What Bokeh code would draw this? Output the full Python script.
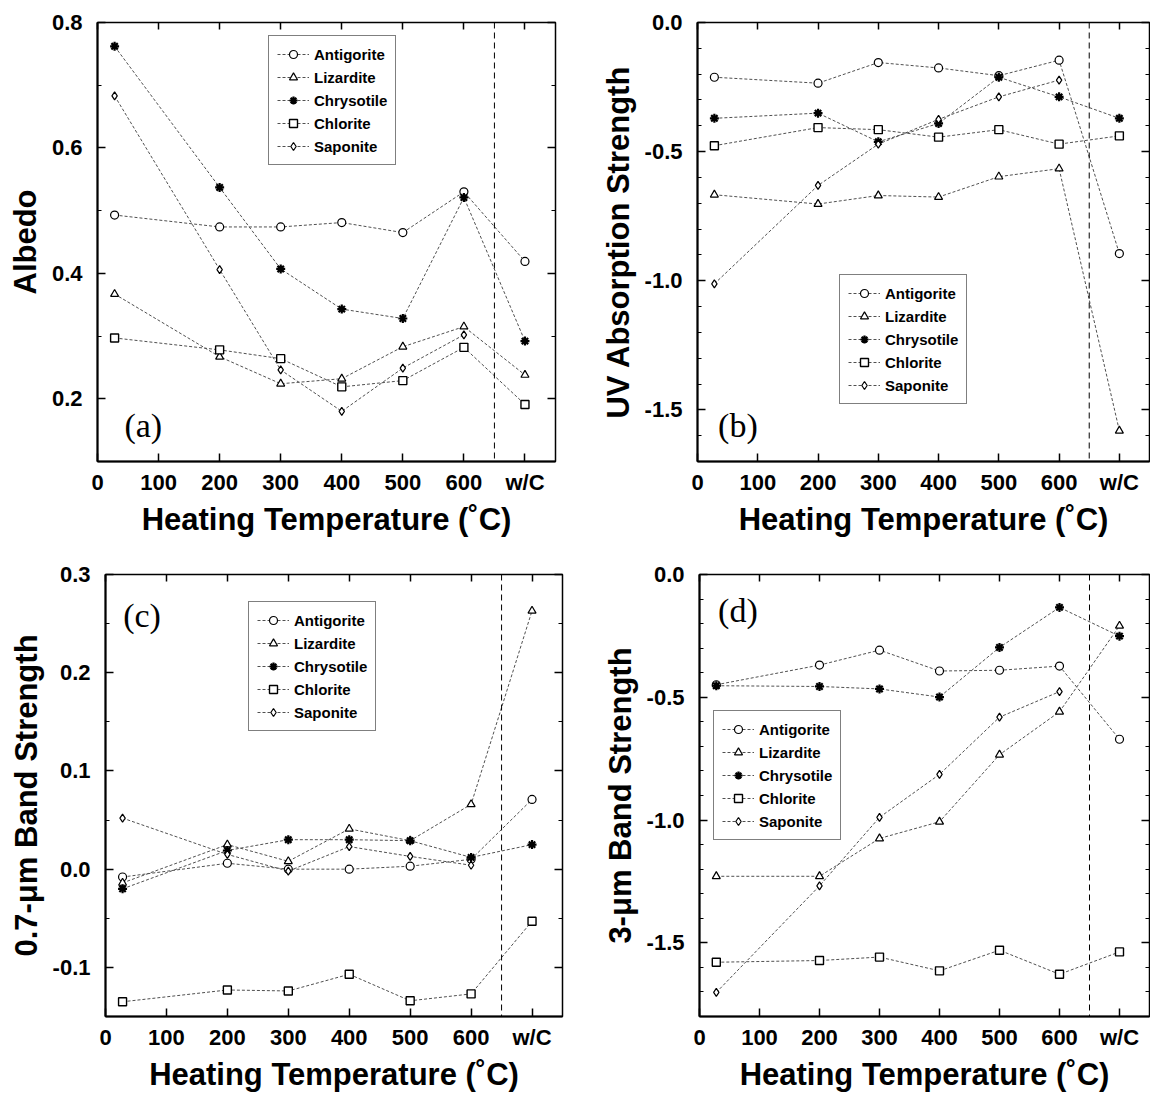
import numpy as np
from bokeh.plotting import figure
from bokeh.models import (Range1d, LinearAxis, FixedTicker, Span, Legend, LegendItem,
                          Label, NumeralTickFormatter, CustomJSTickFormatter, ColumnDataSource)
from bokeh.layouts import column, row
from bokeh.embed import file_html
from bokeh.resources import INLINE

NaN = float("nan")

# ---------------- data ----------------
temps = [28, 200, 300, 400, 500, 600, 700]          # 700 = "w/C"
x_tick_values = [0, 100, 200, 300, 400, 500, 600, 700]
x_tick_labels = ["0", "100", "200", "300", "400", "500", "600", "w/C"]
minerals = ["Antigorite", "Lizardite", "Chrysotile", "Chlorite", "Saponite"]

# (a) Albedo
albedo_antigorite = [0.493, 0.474, 0.474, 0.481, 0.465, 0.530, 0.419]
albedo_lizardite  = [0.367, 0.267, 0.224, 0.232, 0.283, 0.315, 0.238]
albedo_chrysotile = [0.762, 0.537, 0.407, 0.343, 0.328, 0.521, 0.292]
albedo_chlorite   = [0.297, 0.278, 0.264, 0.219, 0.229, 0.282, 0.191]
albedo_saponite   = [0.683, 0.406, 0.246, 0.180, 0.249, 0.302, NaN]

# (b) UV absorption strength
uv_antigorite = [-0.212, -0.235, -0.155, -0.176, -0.206, -0.146, -0.895]
uv_lizardite  = [-0.667, -0.703, -0.670, -0.676, -0.597, -0.566, -1.581]
uv_chrysotile = [-0.371, -0.351, -0.462, -0.391, -0.212, -0.288, -0.371]
uv_chlorite   = [-0.477, -0.407, -0.415, -0.444, -0.415, -0.471, -0.439]
uv_saponite   = [-1.012, -0.631, -0.471, -0.375, -0.288, -0.223, NaN]

# (c) 0.7-um band strength
b07_antigorite = [-0.008, 0.006, 0.000, 0.000, 0.003, 0.010, 0.071]
b07_lizardite  = [-0.014, 0.025, 0.008, 0.041, 0.029, 0.066, 0.263]
b07_chrysotile = [-0.020, 0.019, 0.030, 0.030, 0.029, 0.012, 0.025]
b07_chlorite   = [-0.135, -0.123, -0.124, -0.107, -0.134, -0.127, -0.053]
b07_saponite   = [0.052, 0.015, -0.002, 0.023, 0.013, 0.004, NaN]

# (d) 3-um band strength
b3_antigorite = [-0.449, -0.369, -0.308, -0.393, -0.390, -0.373, -0.671]
b3_lizardite  = [-1.229, -1.229, -1.075, -1.007, -0.734, -0.559, -0.209]
b3_chrysotile = [-0.453, -0.456, -0.466, -0.499, -0.297, -0.134, -0.251]
b3_chlorite   = [-1.579, -1.572, -1.558, -1.614, -1.530, -1.628, -1.537]
b3_saponite   = [-1.702, -1.268, -0.989, -0.814, -0.581, -0.477, NaN]

# ---------------- styling ----------------
FONT = "Liberation Sans"
SERIF = "Liberation Serif"
markers = {"Antigorite": ("circle", 8, 1.2),
           "Lizardite": ("triangle", 8, 1.2),
           "Chrysotile": ("asterisk", 9, 2.2),
           "Chlorite": ("square", 8, 1.4),
           "Saponite": ("diamond", 8, 1.2)}


def make_panel(series, y_label, y_range, y_ticks, y_minor, tag, tag_xy,
               borders, height, legend_loc):
    left, right, top, bottom = borders
    p = figure(width=575, height=height, x_range=Range1d(0, 750),
               y_range=Range1d(*y_range), output_backend="svg",
               toolbar_location=None,
               min_border_left=left, min_border_right=right,
               min_border_top=top, min_border_bottom=bottom)
    p.xgrid.visible = False
    p.ygrid.visible = False
    p.outline_line_color = "black"
    p.outline_line_width = 1.5
    p.background_fill_color = "white"
    p.border_fill_color = "white"

    # bottom axis
    xa = p.xaxis[0]
    xa.ticker = FixedTicker(ticks=x_tick_values)
    xa.major_label_overrides = {v: l for v, l in zip(x_tick_values, x_tick_labels)}
    xa.axis_label = "Heating Temperature (\u02daC)"
    # left axis
    ya = p.yaxis[0]
    ya.ticker = FixedTicker(ticks=y_ticks, minor_ticks=y_minor)
    ya.formatter = NumeralTickFormatter(format="0.0")
    ya.axis_label = y_label
    for ax in (xa, ya):
        ax.major_tick_in = 8
        ax.major_tick_out = 0
        ax.minor_tick_in = 4
        ax.minor_tick_out = 0
        ax.axis_line_width = 2
        ax.major_tick_line_width = 1.5
        ax.major_label_text_font = FONT
        ax.major_label_text_font_style = "bold"
        ax.major_label_text_font_size = "22px"
        ax.major_label_text_color = "black"
        ax.axis_label_text_font = FONT
        ax.axis_label_text_font_style = "bold"
        ax.axis_label_text_font_size = "31px"
        ax.axis_label_text_color = "black"
    xa.major_label_standoff = 8
    xa.axis_label_standoff = 4
    ya.major_label_standoff = 15
    ya.axis_label_standoff = 6

    # mirrored ticks (top / right), no labels
    blank = CustomJSTickFormatter(code="return ''")
    top_ax = LinearAxis(ticker=FixedTicker(ticks=x_tick_values), formatter=blank,
                        major_tick_in=7, major_tick_out=0, axis_line_color=None,
                        major_label_standoff=0, major_label_text_font_size="1px",
                        major_tick_line_width=1.5)
    right_ax = LinearAxis(ticker=FixedTicker(ticks=y_ticks, minor_ticks=y_minor),
                          formatter=blank, major_tick_in=8, major_tick_out=0,
                          minor_tick_in=4, minor_tick_out=0, axis_line_color=None,
                          major_label_standoff=0, major_label_text_font_size="1px",
                          major_tick_line_width=1.5)
    p.add_layout(top_ax, "above")
    p.add_layout(right_ax, "right")

    p.add_layout(Span(location=650, dimension="height", line_color="black",
                      line_width=1, line_dash="6 4"))

    items = []
    for name in minerals:
        src = ColumnDataSource(dict(x=temps, y=np.array(series[name], dtype=float)))
        ln = p.line("x", "y", source=src, line_color="#505050", line_width=1,
                    line_dash="3 2")
        mk, sz, lw = markers[name]
        sc = p.scatter("x", "y", source=src, marker=mk, size=sz,
                       fill_color="white", line_color="black", line_width=lw)
        items.append(LegendItem(label=name, renderers=[ln, sc]))

    leg = Legend(items=items, location=legend_loc,
                 label_text_font=FONT, label_text_font_style="bold",
                 label_text_font_size="15px", label_text_color="black",
                 label_height=20, glyph_height=20, glyph_width=32,
                 label_standoff=5, spacing=3, padding=8, margin=0,
                 border_line_color="black", border_line_width=1.5,
                 background_fill_color="white", background_fill_alpha=1)
    p.add_layout(leg)

    p.add_layout(Label(x=tag_xy[0], y=tag_xy[1], text=tag, text_font=SERIF,
                       text_font_size="34px", text_align="center",
                       text_baseline="middle", text_color="black"))
    return p


pa = make_panel(dict(zip(minerals, [albedo_antigorite, albedo_lizardite, albedo_chrysotile,
                                    albedo_chlorite, albedo_saponite])),
                "Albedo", (0.1, 0.8), [0.2, 0.4, 0.6, 0.8], [0.1, 0.3, 0.5, 0.7],
                "(a)", (75, 0.157), (97, 20, 22, 84), 548, (171, 296))

minor_b = [round(-1.7 + 0.1 * i, 2) for i in range(18)]
pb = make_panel(dict(zip(minerals, [uv_antigorite, uv_lizardite, uv_chrysotile,
                                    uv_chlorite, uv_saponite])),
                "UV Absorption Strength", (-1.7, 0.0), [-1.5, -1.0, -0.5, 0.0], minor_b,
                "(b)", (67, -1.56), (122, 1, 18, 87), 548, (142, 57))

pc = make_panel(dict(zip(minerals, [b07_antigorite, b07_lizardite, b07_chrysotile,
                                    b07_chlorite, b07_saponite])),
                "0.7-\u03bcm Band Strength", (-0.15, 0.3), [-0.1, 0.0, 0.1, 0.2, 0.3],
                [-0.05, 0.05, 0.15, 0.25],
                "(c)", (60, 0.258), (105, 13, 26, 77), 547, (143, 285))

minor_d = [round(-1.8 + 0.1 * i, 2) for i in range(19)]
pd_ = make_panel(dict(zip(minerals, [b3_antigorite, b3_lizardite, b3_chrysotile,
                                     b3_chlorite, b3_saponite])),
                 "3-\u03bcm Band Strength", (-1.8, 0.0), [-1.5, -1.0, -0.5, 0.0], minor_d,
                 "(d)", (64, -0.146), (124, 1, 24, 79), 547, (14, 176))

layout = column(row(pa, pb, spacing=0), row(pc, pd_, spacing=0), spacing=0)

with open("out.html", "w") as f:
    f.write(file_html(layout, INLINE))
